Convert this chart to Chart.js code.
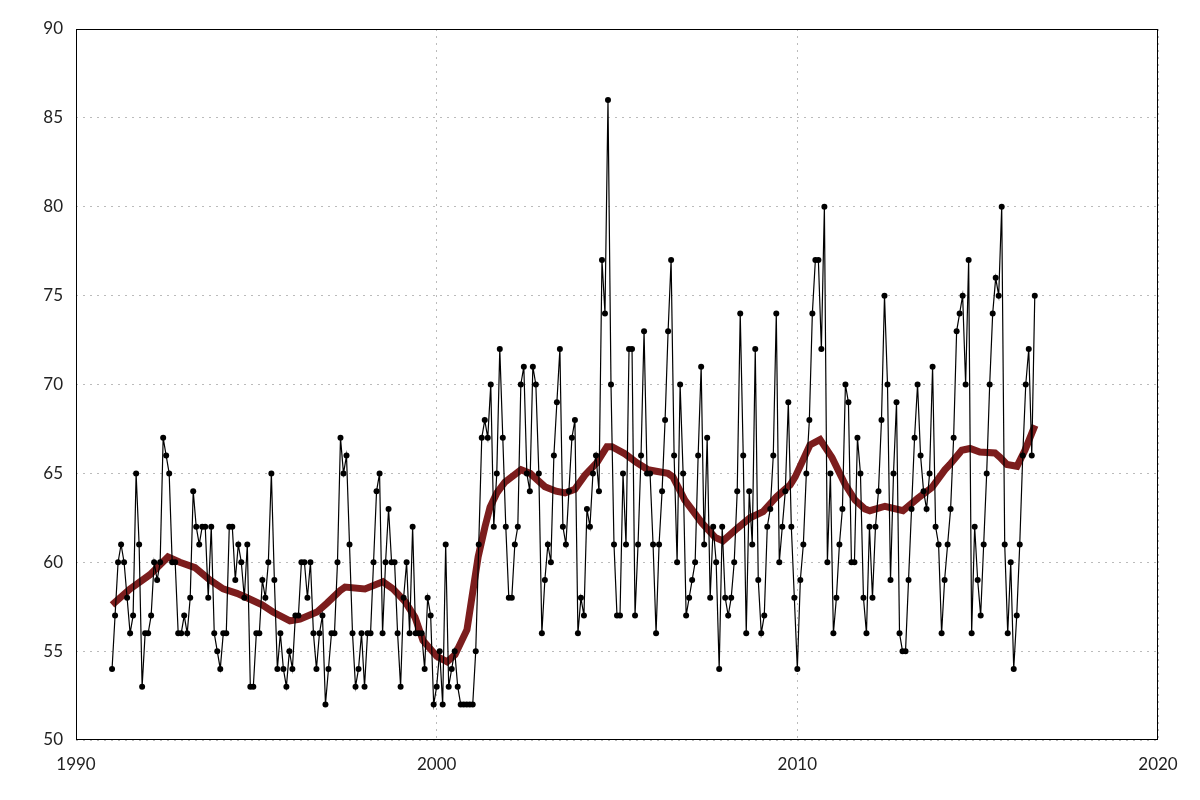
<!DOCTYPE html>
<html>
<head>
<meta charset="utf-8">
<script src="https://cdn.jsdelivr.net/npm/chart.js@4/dist/chart.umd.min.js"></script>
<style>
  html, body { margin: 0; padding: 0; background: #fff; }
  #wrap { width: 1200px; height: 800px; }
</style>
</head>
<body>
<div id="wrap"><canvas id="chart" width="1200" height="800"></canvas></div>
<script>
// monthly observations, Jan 1991 .. Aug 2016
const startYear = 1991;
const values = [
  54,57,60,61,60,58,56,57,65,61,53,56,
  56,57,60,59,60,67,66,65,60,60,56,56,
  57,56,58,64,62,61,62,62,58,62,56,55,
  54,56,56,62,62,59,61,60,58,61,53,53,
  56,56,59,58,60,65,59,54,56,54,53,55,
  54,57,57,60,60,58,60,56,54,56,57,52,
  54,56,56,60,67,65,66,61,56,53,54,56,
  53,56,56,60,64,65,56,60,63,60,60,56,
  53,58,60,56,62,56,56,56,54,58,57,52,
  53,55,52,61,53,54,55,53,52,52,52,52,
  52,55,61,67,68,67,70,62,65,72,67,62,
  58,58,61,62,70,71,65,64,71,70,65,56,
  59,61,60,66,69,72,62,61,64,67,68,56,
  58,57,63,62,65,66,64,77,74,86,70,61,
  57,57,65,61,72,72,57,61,66,73,65,65,
  61,56,61,64,68,73,77,66,60,70,65,57,
  58,59,60,66,71,61,67,58,62,60,54,62,
  58,57,58,60,64,74,66,56,64,61,72,59,
  56,57,62,63,66,74,60,62,64,69,62,58,
  54,59,61,65,68,74,77,77,72,80,60,65,
  56,58,61,63,70,69,60,60,67,65,58,56,
  62,58,62,64,68,75,70,59,65,69,56,55,
  55,59,63,67,70,66,64,63,65,71,62,61,
  56,59,61,63,67,73,74,75,70,77,56,62,
  59,57,61,65,70,74,76,75,80,61,56,60,
  54,57,61,66,70,72,66,75
];

// smoothed trend
const trendYears = [
  1991.00,1991.50,1992.05,1992.55,1992.88,1993.30,1993.71,1994.08,1994.46,1994.74,
  1995.16,1995.46,1995.93,1996.21,1996.68,1996.96,1997.32,1997.46,1998.01,1998.51,
  1998.79,1999.12,1999.40,1999.62,2000.01,2000.29,2000.51,2000.84,2001.15,2001.34,
  2001.48,2001.67,2001.89,2002.34,2002.59,2003.00,2003.31,2003.56,2003.83,2004.11,
  2004.44,2004.72,2004.86,2005.22,2005.55,2005.86,2006.41,2006.55,2006.88,2007.36,
  2007.72,2007.94,2008.33,2008.69,2009.05,2009.43,2009.80,2009.94,2010.35,2010.63,
  2010.96,2011.32,2011.60,2011.87,2012.01,2012.43,2012.93,2013.34,2013.73,2014.09,
  2014.23,2014.56,2014.79,2015.06,2015.48,2015.62,2015.81,2016.09,2016.31,2016.59
];
const trendValues = [
  57.6,58.5,59.3,60.3,60.0,59.7,59.0,58.5,58.25,58.0,
  57.6,57.2,56.7,56.8,57.2,57.7,58.4,58.6,58.5,58.9,
  58.5,57.8,56.9,55.6,54.7,54.4,54.8,56.2,60.3,62.0,
  63.1,63.9,64.5,65.2,65.0,64.25,64.0,63.9,64.1,64.9,
  65.6,66.5,66.5,66.1,65.6,65.2,65.0,64.8,63.5,62.2,
  61.4,61.2,61.9,62.5,62.85,63.7,64.35,64.8,66.6,66.9,
  65.9,64.4,63.5,63.0,62.9,63.15,62.9,63.6,64.2,65.2,
  65.5,66.3,66.4,66.2,66.15,65.9,65.5,65.4,66.3,67.7
];

const xTicks = [1990, 2000, 2010, 2020];
const yTicks = [50, 55, 60, 65, 70, 75, 80, 85, 90];

const obs = values.map((v, i) => ({ x: startYear + i / 12, y: v }));
const trend = trendYears.map((t, i) => ({ x: t, y: trendValues[i] }));

Chart.defaults.font.family = 'Lato'
Chart.defaults.font.size = 17
Chart.defaults.color = '#222'

// frame round the plot area
const frame = {
  id: 'frame',
  afterDatasetsDraw(chart) {
    const a = chart.chartArea, c = chart.ctx;
    c.save();
    c.strokeStyle = '#000';
    c.lineWidth = 1;
    c.strokeRect(a.left + 0.5, a.top + 0.5, a.right - a.left - 1, a.bottom - a.top - 1);
    c.restore();
  }
};

new Chart(document.getElementById('chart'), {
  type: 'scatter',
  data: {
    datasets: [{
      data: obs,
      showLine: true,
      borderColor: '#000',
      borderWidth: 1.2,
      pointRadius: 3,
      pointBackgroundColor: '#000',
      pointBorderColor: '#000',
      pointBorderWidth: 0,
      order: 1
    }, {
      data: trend,
      showLine: true,
      borderColor: '#7c1d1d',
      borderWidth: 7,
      pointRadius: 0,
      tension: 0,
      order: 2
    }]
  },
  options: {
    responsive: false,
    animation: false,
    layout: { padding: { top: 29, right: 42, left: 0, bottom: 0 } },
    plugins: { legend: { display: false }, tooltip: { enabled: false } },
    scales: {
      x: {
        type: 'linear',
        min: 1990, max: 2020,
        afterFit: s => { s.height = 60 },
        afterBuildTicks: s => { s.ticks = xTicks.map(v => ({ value: v })) },
        ticks: { padding: 14, callback: v => String(v) },
        grid: { color: '#bbb', drawTicks: false },
        border: { display: false, dash: [2, 5] }
      },
      y: {
        min: 50, max: 90,
        afterFit: s => { s.width = 76 },
        afterBuildTicks: s => { s.ticks = yTicks.map(v => ({ value: v })) },
        ticks: { padding: 13 },
        grid: { color: '#bbb', drawTicks: false },
        border: { display: false, dash: [2, 5] }
      }
    }
  },
  plugins: [frame]
});
</script>
</body>
</html>
